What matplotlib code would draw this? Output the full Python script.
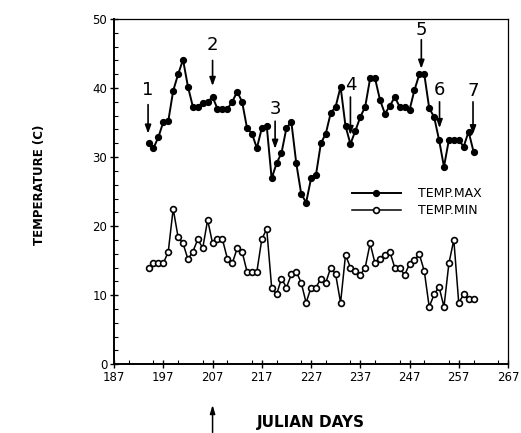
import matplotlib
matplotlib.use("Agg")
import matplotlib.pyplot as plt
from matplotlib.ticker import MultipleLocator

# Julian days of the daily readings
days = list(range(194, 261))

temp_max = [
    32.0, 31.3, 32.9, 35.1, 35.2, 39.6, 42.0, 44.1, 40.2, 37.3,
    37.3, 37.9, 38.0, 38.7, 37.0, 37.0, 37.0, 38.0, 39.5, 38.0,
    34.2, 33.4, 31.3, 34.2, 34.5, 26.9, 29.1, 30.6, 34.2, 35.1,
    29.1, 24.7, 23.4, 26.9, 27.4, 32.0, 33.4, 36.4, 37.3, 40.2,
    34.5, 31.9, 33.8, 35.8, 37.3, 41.4, 41.4, 38.3, 36.3, 37.4,
    38.7, 37.3, 37.3, 36.8, 39.7, 42.0, 42.0, 37.1, 35.8, 32.5,
    28.6, 32.5, 32.5, 32.5, 31.5, 33.7, 30.8,
]

temp_min = [
    14.0, 14.6, 14.6, 14.6, 16.3, 22.5, 18.4, 17.5, 15.2, 16.3,
    18.1, 16.8, 20.9, 17.5, 18.1, 18.1, 15.3, 14.6, 16.8, 16.3,
    13.4, 13.4, 13.4, 18.1, 19.6, 11.1, 10.1, 12.4, 11.1, 13.0,
    13.4, 11.8, 8.9, 11.1, 11.1, 12.4, 11.8, 14.0, 13.0, 8.9,
    15.8, 14.0, 13.5, 12.9, 14.0, 17.5, 14.6, 15.3, 15.8, 16.3,
    14.0, 14.0, 12.9, 14.5, 15.1, 15.9, 13.5, 8.3, 10.1, 11.2,
    8.3, 14.6, 18.0, 8.9, 10.1, 9.5, 9.5,
]

# numbered event markers: label, day, text height, arrow top, arrow tip
event_labels = ["1", "2", "3", "4", "5", "6", "7"]
event_days = [193.9, 207.0, 219.7, 235.0, 249.4, 253.1, 259.9]
event_text_y = [39.7, 46.3, 37.0, 40.4, 48.4, 39.7, 39.6]
event_arrow_top = [37.6, 44.0, 35.2, 38.7, 47.0, 38.0, 38.0]
event_arrow_tip = [33.4, 40.3, 31.2, 33.2, 42.8, 34.2, 33.3]

fig = plt.figure(figsize=(5.21, 4.33), dpi=100)
ax = fig.add_axes([0.219, 0.159, 0.756, 0.797])

ax.plot(days, temp_max, color="black", lw=1.4, marker="o", ms=4.2,
        mfc="black", mec="black", label="TEMP.MAX")
ax.plot(days, temp_min, color="black", lw=1.1, marker="o", ms=4.2,
        mfc="white", mec="black", mew=1.2, label="TEMP.MIN")

for lab, d, ty, top, tip in zip(event_labels, event_days, event_text_y,
                                event_arrow_top, event_arrow_tip):
    ax.text(d, ty, lab, ha="center", va="center", fontsize=13, zorder=5)
    arr = ax.annotate("", xy=(d, tip), xytext=(d, top),
                      arrowprops=dict(arrowstyle="-|>,head_length=0.5,head_width=0.18",
                                      color="black", lw=1.2, shrinkA=0, shrinkB=0))
    arr.arrow_patch.set_zorder(6)

ax.set_xlim(187, 267)
ax.set_ylim(0, 50)
ax.xaxis.set_major_locator(MultipleLocator(10))
ax.xaxis.set_minor_locator(MultipleLocator(5))
ax.yaxis.set_major_locator(MultipleLocator(10))
ax.yaxis.set_minor_locator(MultipleLocator(2))
ax.set_xticks(range(187, 268, 10))
ax.tick_params(which="major", direction="inout", length=6, width=1.0,
               labelsize=8.5, pad=2)
ax.tick_params(which="minor", direction="in", length=3, width=0.8)
for side in ["left", "bottom"]:
    ax.spines[side].set_linewidth(1.4)
for side in ["top", "right"]:
    ax.spines[side].set_linewidth(0.9)

ax.set_ylabel("TEMPERATURE (C)", fontsize=8.5, fontweight="bold")
ax.yaxis.set_label_coords(-0.173, 0.52)
ax.set_xlabel("JULIAN DAYS", fontsize=11, fontweight="bold")
ax.xaxis.set_label_coords(0.5, -0.148)

# arrow under the axis pointing up at day 207
ax.annotate("", xy=(207, -5.9), xytext=(207, -9.9), annotation_clip=False,
            arrowprops=dict(arrowstyle="-|>,head_length=0.5,head_width=0.15",
                            color="black", lw=1.1, shrinkA=0, shrinkB=0))

ax.legend(loc="upper left", bbox_to_anchor=(0.575, 0.545), frameon=False,
          fontsize=9, handlelength=3.9, handletextpad=1.4, labelspacing=0.3)

fig.savefig("out.png", dpi=100)
